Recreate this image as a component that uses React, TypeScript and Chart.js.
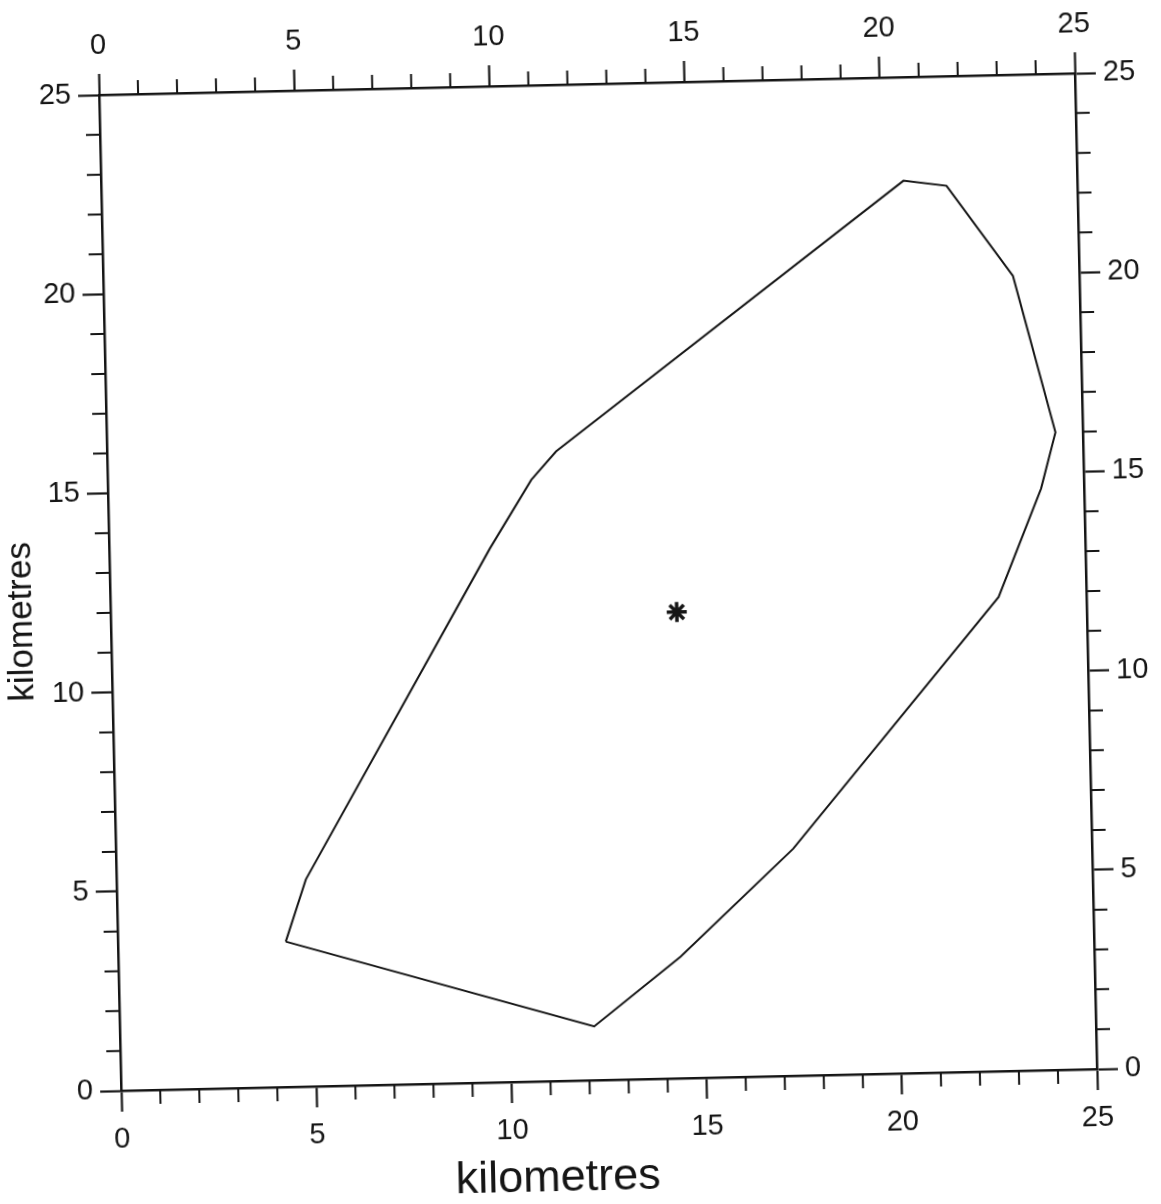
import React, { useEffect, useRef } from 'react';
import { Chart, registerables } from 'chart.js';

Chart.register(...registerables);

// ---- data ----
const AXIS_MIN = 0;
const AXIS_MAX = 25;
const MAJOR_STEP = 5;
const MINOR_STEP = 1;
const X_TITLE = 'kilometres';
const Y_TITLE = 'kilometres';

// boundary polygon (km), closed by repeating the first vertex
const boundaryX = [4.3, 4.85, 9.75, 10.85, 11.5, 20.55, 21.65, 23.3, 24.3, 23.9, 22.75, 17.35, 14.4, 12.15, 4.3];
const boundaryY = [3.65, 5.2, 13.4, 15.1, 15.8, 22.4, 22.25, 19.95, 16.0, 14.6, 11.9, 5.7, 3.05, 1.35, 3.65];

// centre marker (km)
const centreX = [14.5];
const centreY = [11.7];

// ---- style ----
const INK = '#151515';
const FONT = '"Liberation Sans", Arial, Helvetica, sans-serif';
const MAJOR_LEN = 21;
const MINOR_LEN = 14;

const minorTicks = {
  id: 'minorTicks',
  afterDraw(chart: any) {
    const ctx = chart.ctx;
    const { left, right, top, bottom } = chart.chartArea;
    const s = chart.scales;
    ctx.save();
    ctx.strokeStyle = INK;
    ctx.lineWidth = 2;
    ctx.beginPath();
    for (let v = AXIS_MIN; v <= AXIS_MAX; v += MINOR_STEP) {
      if (v % MAJOR_STEP === 0) continue;
      const px = s.x.getPixelForValue(v);
      const px2 = s.x2.getPixelForValue(v);
      const py = s.y.getPixelForValue(v);
      const py2 = s.y2.getPixelForValue(v);
      ctx.moveTo(px, bottom);
      ctx.lineTo(px, bottom + MINOR_LEN);
      ctx.moveTo(px2, top);
      ctx.lineTo(px2, top - MINOR_LEN);
      ctx.moveTo(left, py);
      ctx.lineTo(left - MINOR_LEN, py);
      ctx.moveTo(right, py2);
      ctx.lineTo(right + MINOR_LEN, py2);
    }
    ctx.stroke();
    ctx.restore();
  },
};

const axisTitles = {
  id: 'axisTitles',
  afterDraw(chart: any) {
    const { left, right, top, bottom } = chart.chartArea;
    const ctx = chart.ctx;
    ctx.save();
    ctx.fillStyle = INK;
    ctx.textAlign = 'center';
    ctx.textBaseline = 'middle';
    ctx.font = `45px ${FONT}`;
    ctx.fillText(X_TITLE, (left + right) / 2 - 53, bottom + 98);
    ctx.font = `35px ${FONT}`;
    ctx.translate(left - 89, (top + bottom) / 2 + 27);
    ctx.rotate(-Math.PI / 2);
    ctx.fillText(Y_TITLE, 0, 0);
    ctx.restore();
  },
};

function axis(position: string, padding: number, size: number) {
  const horizontal = position === 'top' || position === 'bottom';
  return {
    type: 'linear',
    position,
    min: AXIS_MIN,
    max: AXIS_MAX,
    afterFit: (scale: any) => {
      if (horizontal) scale.height = size;
      else scale.width = size;
    },
    ticks: {
      stepSize: MINOR_STEP,
      autoSkip: false,
      maxRotation: 0,
      minRotation: 0,
      padding,
      color: INK,
      font: { family: FONT, size: 29 },
      callback: (v: number) => (v % MAJOR_STEP === 0 ? String(v) : ''),
    },
    grid: {
      display: true,
      drawOnChartArea: false,
      drawTicks: true,
      tickLength: MAJOR_LEN,
      tickWidth: 2.2,
      tickColor: (c: any) => (c.tick && c.tick.value % MAJOR_STEP === 0 ? INK : 'rgba(0,0,0,0)'),
    },
    border: { display: true, color: INK, width: 2.5 },
    title: { display: false },
  };
}

export default function App() {
  const ref = useRef<HTMLCanvasElement | null>(null);

  useEffect(() => {
    if (!ref.current) return;
    const chart = new Chart(ref.current, {
      type: 'scatter',
      data: {
        datasets: [
          {
            data: boundaryX.map((x, i) => ({ x, y: boundaryY[i] })),
            showLine: true,
            borderColor: INK,
            borderWidth: 2,
            pointRadius: 0,
            fill: false,
            tension: 0,
            xAxisID: 'x',
            yAxisID: 'y',
          },
          {
            data: centreX.map((x, i) => ({ x, y: centreY[i] })),
            pointStyle: 'star',
            pointRadius: 10,
            borderWidth: 3.5,
            borderColor: INK,
            backgroundColor: INK,
            xAxisID: 'x',
            yAxisID: 'y',
          },
        ],
      },
      options: {
        responsive: false,
        animation: false,
        devicePixelRatio: 1,
        layout: { padding: 0 },
        plugins: { legend: { display: false }, tooltip: { enabled: false } },
        scales: {
          x: axis('bottom', 11, 124),
          x2: axis('top', 11, 84),
          y: axis('left', 7, 110),
          y2: axis('right', 7, 75),
        } as any,
      },
      plugins: [minorTicks, axisTitles],
    } as any);
    return () => chart.destroy();
  }, []);

  return (
    <div
      style={{
        position: 'absolute',
        left: 0,
        top: 0,
        width: 1161,
        height: 1204,
        overflow: 'hidden',
        background: '#ffffff',
      }}
    >
      <canvas
        ref={ref}
        width={1161}
        height={1204}
        style={{
          display: 'block',
          transform: 'rotate(-1.27deg)',
          transformOrigin: '598px 582px',
        }}
      />
    </div>
  );
}
